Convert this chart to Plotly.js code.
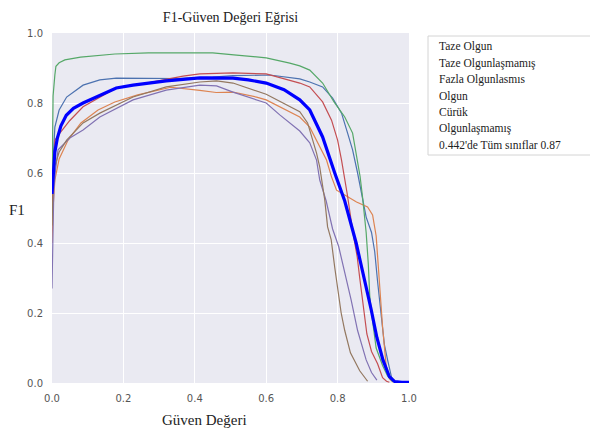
<!DOCTYPE html>
<html>
<head>
<meta charset="utf-8">
<script src="https://cdn.plot.ly/plotly-3.0.1.min.js"></script>
<style>html,body{margin:0;padding:0;background:#fff;}</style>
</head>
<body>
<div id="chart" style="width:590px;height:433px;"></div>
<script>
// Class names (legend text)
const classNames = ["Taze Olgun", "Taze Olgunlaşmamış", "Fazla Olgunlasmıs", "Olgun", "Cürük", "Olgunlaşmamış"];
const allClassesLabel = "0.442'de Tüm sınıflar 0.87";

// Taze Olgun
const tazeOlgunX = [0, 0.004, 0.008, 0.02, 0.041, 0.087, 0.134, 0.18, 0.265, 0.35, 0.45, 0.507, 0.61, 0.666, 0.694, 0.722, 0.758, 0.786, 0.811, 0.828, 0.842, 0.856, 0.867, 0.88, 0.895, 0.904, 0.912, 0.922, 0.931, 0.94, 0.951, 0.96];
const tazeOlgunY = [0.58, 0.666, 0.731, 0.78, 0.817, 0.851, 0.866, 0.871, 0.871, 0.87, 0.874, 0.878, 0.88, 0.874, 0.869, 0.86, 0.846, 0.814, 0.771, 0.714, 0.666, 0.6, 0.543, 0.474, 0.43, 0.375, 0.29, 0.2, 0.11, 0.066, 0.017, 0.003];

// Taze Olgunlaşmamış
const tazeOlgunlasmamisX = [0, 0.003, 0.008, 0.02, 0.045, 0.081, 0.129, 0.176, 0.24, 0.296, 0.333, 0.414, 0.46, 0.507, 0.573, 0.6, 0.646, 0.694, 0.722, 0.75, 0.769, 0.783, 0.797, 0.82, 0.853, 0.884, 0.898, 0.908, 0.917, 0.926, 0.936, 0.945, 0.955];
const tazeOlgunlasmamisY = [0.4, 0.5, 0.58, 0.64, 0.694, 0.743, 0.78, 0.803, 0.823, 0.837, 0.845, 0.836, 0.83, 0.831, 0.817, 0.809, 0.785, 0.76, 0.731, 0.674, 0.637, 0.589, 0.551, 0.537, 0.517, 0.503, 0.48, 0.42, 0.29, 0.16, 0.05, 0.012, 0.003];

// Fazla Olgunlaşmış
const fazlaX = [0, 0.003, 0.008, 0.011, 0.02, 0.036, 0.08, 0.176, 0.27, 0.35, 0.45, 0.517, 0.6, 0.666, 0.694, 0.722, 0.758, 0.79, 0.82, 0.842, 0.856, 0.863, 0.87, 0.88, 0.886, 0.89, 0.895, 0.908, 0.926, 0.94, 0.955];
const fazlaY = [0.55, 0.82, 0.88, 0.905, 0.915, 0.923, 0.931, 0.94, 0.943, 0.943, 0.943, 0.937, 0.929, 0.914, 0.906, 0.894, 0.857, 0.803, 0.76, 0.714, 0.637, 0.59, 0.53, 0.43, 0.34, 0.25, 0.2, 0.1, 0.05, 0.02, 0.003];

// Olgun
const olgunX = [0, 0.004, 0.008, 0.022, 0.05, 0.087, 0.18, 0.265, 0.367, 0.414, 0.507, 0.6, 0.666, 0.694, 0.722, 0.758, 0.783, 0.8, 0.811, 0.827, 0.843, 0.855, 0.862, 0.872, 0.882, 0.895, 0.912, 0.926, 0.937, 0.945];
const olgunY = [0.5, 0.62, 0.694, 0.714, 0.75, 0.789, 0.843, 0.857, 0.877, 0.883, 0.886, 0.883, 0.866, 0.857, 0.846, 0.803, 0.751, 0.694, 0.637, 0.54, 0.43, 0.36, 0.3, 0.22, 0.14, 0.09, 0.055, 0.015, 0.005, 0.002];

// Cürük
const curukX = [0, 0.002, 0.005, 0.01, 0.017, 0.05, 0.087, 0.134, 0.227, 0.32, 0.414, 0.461, 0.507, 0.6, 0.638, 0.694, 0.722, 0.741, 0.75, 0.768, 0.786, 0.803, 0.82, 0.838, 0.856, 0.87, 0.88, 0.895, 0.91];
const curukY = [0.27, 0.45, 0.55, 0.61, 0.666, 0.70, 0.723, 0.76, 0.809, 0.837, 0.851, 0.849, 0.831, 0.8, 0.766, 0.72, 0.686, 0.637, 0.58, 0.52, 0.44, 0.39, 0.32, 0.237, 0.15, 0.103, 0.066, 0.03, 0.008];

// Olgunlaşmamış
const olgunlasmamisX = [0, 0.003, 0.008, 0.02, 0.041, 0.087, 0.134, 0.227, 0.32, 0.414, 0.461, 0.507, 0.6, 0.638, 0.694, 0.716, 0.73, 0.741, 0.75, 0.755, 0.764, 0.772, 0.782, 0.792, 0.81, 0.82, 0.836, 0.862, 0.884];
const olgunlasmamisY = [0.45, 0.55, 0.62, 0.66, 0.694, 0.743, 0.771, 0.817, 0.846, 0.86, 0.863, 0.857, 0.825, 0.804, 0.775, 0.743, 0.694, 0.657, 0.617, 0.58, 0.523, 0.446, 0.41, 0.33, 0.2, 0.15, 0.086, 0.035, 0.005];

// Tüm sınıflar (all classes)
const allX = [0, 0.003, 0.008, 0.015, 0.025, 0.04, 0.06, 0.087, 0.134, 0.18, 0.227, 0.32, 0.414, 0.45, 0.507, 0.55, 0.6, 0.65, 0.694, 0.722, 0.758, 0.792, 0.82, 0.852, 0.875, 0.894, 0.91, 0.927, 0.945, 0.96, 0.98, 1.0];
const allY = [0.54, 0.6, 0.66, 0.70, 0.735, 0.765, 0.785, 0.80, 0.823, 0.843, 0.851, 0.863, 0.872, 0.872, 0.871, 0.866, 0.857, 0.838, 0.809, 0.78, 0.703, 0.6, 0.52, 0.4, 0.3, 0.21, 0.13, 0.066, 0.018, 0.004, 0.002, 0.002];

// Axis ticks
const tickVals = [0, 0.2, 0.4, 0.6, 0.8, 1.0];
const tickText = ["0.0", "0.2", "0.4", "0.6", "0.8", "1.0"];

const colors = ["#4c72b0", "#dd8452", "#55a868", "#c44e52", "#8172b3", "#937860"];
const seriesX = [tazeOlgunX, tazeOlgunlasmamisX, fazlaX, olgunX, curukX, olgunlasmamisX];
const seriesY = [tazeOlgunY, tazeOlgunlasmamisY, fazlaY, olgunY, curukY, olgunlasmamisY];

const traces = classNames.map((n, i) => ({
  x: seriesX[i], y: seriesY[i], name: n, type: 'scatter', mode: 'lines',
  line: {color: colors[i], width: 1.2}, showlegend: false, hoverinfo: 'skip'
}));
traces.push({
  x: allX, y: allY, name: allClassesLabel, type: 'scatter', mode: 'lines',
  line: {color: '#0000ff', width: 3.2}, showlegend: false, hoverinfo: 'skip'
});

const serif = "'Liberation Serif', 'Times New Roman', serif";
const tickFont = {family: "'DejaVu Sans', sans-serif", size: 10, color: '#555555'};

// Legend box, as text lines
const legendLines = classNames.concat([allClassesLabel]);
const legendPixY = [46.5, 63, 80, 96, 112, 128, 144.5];
const toPaperY = py => (383 - py) / 350;
const annotations = legendLines.map((t, i) => ({
  text: t, xref: 'paper', yref: 'paper', x: (437 - 52) / 357, y: toPaperY(legendPixY[i]),
  xanchor: 'left', yanchor: 'middle', showarrow: false,
  font: {family: serif, size: 11.5, color: '#222222'}
}));
annotations.push({
  text: 'Güven Değeri', xref: 'paper', yref: 'paper', x: (204.5 - 52) / 357, y: toPaperY(420),
  xanchor: 'center', yanchor: 'middle', showarrow: false,
  font: {family: serif, size: 15, color: '#222222'}
});
annotations.push({
  text: 'F1', xref: 'paper', yref: 'paper', x: (16.5 - 52) / 357, y: toPaperY(210),
  xanchor: 'center', yanchor: 'middle', showarrow: false,
  font: {family: serif, size: 15, color: '#222222'}
});

const layout = {
  width: 590, height: 433,
  margin: {l: 52, r: 181, t: 33, b: 50, pad: 0},
  paper_bgcolor: '#ffffff', plot_bgcolor: '#eaeaf2',
  title: {text: 'F1-Güven Değeri Eğrisi', x: 0.5, xref: 'paper', xanchor: 'center',
          y: 1 - 17 / 433, yref: 'container', yanchor: 'middle',
          font: {family: serif, size: 14, color: '#222222'}},
  xaxis: {range: [0, 1], tickvals: tickVals, ticktext: tickText, showgrid: true,
          gridcolor: '#ffffff', gridwidth: 1, zeroline: false, showline: false,
          ticks: 'outside', ticklen: 6, tickcolor: 'rgba(0,0,0,0)', tickfont: tickFont, fixedrange: true},
  yaxis: {range: [0, 1], tickvals: tickVals, ticktext: tickText, showgrid: true,
          gridcolor: '#ffffff', gridwidth: 1, zeroline: false, showline: false,
          ticks: 'outside', ticklen: 6, tickcolor: 'rgba(0,0,0,0)', tickfont: tickFont, fixedrange: true},
  shapes: [{type: 'rect', xref: 'paper', yref: 'paper',
            x0: (428 - 52) / 357, x1: (600 - 52) / 357, y0: toPaperY(155), y1: toPaperY(36),
            fillcolor: '#ffffff', line: {color: '#d4d4d4', width: 1}, layer: 'below'}],
  annotations: annotations,
  showlegend: false
};

Plotly.newPlot('chart', traces, layout, {displayModeBar: false, staticPlot: true});
</script>
</body>
</html>
